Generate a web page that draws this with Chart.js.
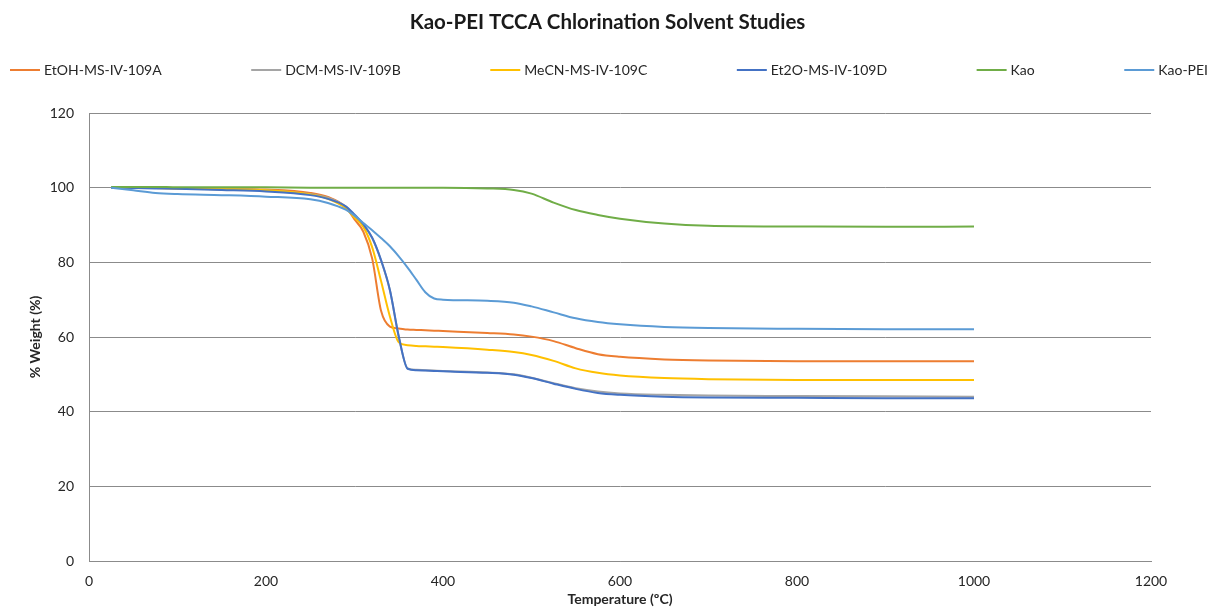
<!DOCTYPE html>
<html>
<head>
<meta charset="utf-8">
<title>Kao-PEI TCCA Chlorination Solvent Studies</title>
<script src="https://cdn.jsdelivr.net/npm/chart.js@4.4.1/dist/chart.umd.min.js"></script>
<style>
    body { margin: 0; background: #fff; }
    #wrap { width: 1211px; height: 616px; }
</style>
</head>
<body>
<div id="wrap"><canvas id="tgaChart"></canvas></div>
<script>
// temperature (ºC) shared by all runs
const temps = [25, 50, 75, 100, 150, 200, 250, 270, 290, 300, 310, 320, 330, 340, 350, 360, 370, 380, 390, 400,
    450, 480, 500, 525, 550, 575, 600, 650, 700, 800, 900, 1000];

// % weight for each sample
const etoh = [100, 99.9, 99.9, 99.8, 99.7, 99.5, 98.6, 97.5, 94.8, 91.5, 88.2, 81, 67, 62.8, 62.3, 62, 61.9, 61.8, 61.7, 61.6,
    61.1, 60.7, 60.1, 58.9, 57, 55.4, 54.7, 54, 53.7, 53.5, 53.5, 53.5];
const dcm = [100, 99.9, 99.9, 99.8, 99.6, 99.3, 98.3, 97.3, 95, 92.5, 90, 86.5, 80.5, 72.5, 60, 51.6, 51.2, 51.1, 51, 50.9,
    50.5, 50, 49.1, 47.6, 46.3, 45.4, 44.9, 44.5, 44.3, 44.2, 44.1, 44];
const mecn = [100, 99.9, 99.9, 99.8, 99.6, 99.3, 98.2, 97, 94.5, 92, 89.5, 84, 75, 65.5, 58.6, 57.8, 57.6, 57.5, 57.4, 57.3,
    56.6, 56, 55.2, 53.6, 51.6, 50.4, 49.7, 49, 48.7, 48.5, 48.5, 48.5];
const et2o = [100, 99.9, 99.8, 99.7, 99.4, 99, 98, 97, 95, 92.8, 90.2, 86.6, 80.6, 72.6, 60.2, 51.5, 51.1, 51, 50.9, 50.8,
    50.4, 49.9, 49, 47.5, 46.1, 45, 44.5, 44, 43.8, 43.7, 43.6, 43.6];
const kao = [100.2, 100.2, 100.2, 100.1, 100.1, 100.1, 100, 100, 100, 100, 100, 100, 100, 100, 100, 100, 100, 100, 100, 100,
    99.8, 99.4, 98.4, 96, 94, 92.7, 91.7, 90.4, 89.8, 89.6, 89.5, 89.6];
const kaoPei = [100, 99.3, 98.6, 98.3, 98, 97.6, 96.9, 95.9, 94.1, 92.5, 90.5, 88.6, 86.5, 84.3, 81.6, 78.6, 75.3, 72, 70.3, 70,
    69.7, 69.2, 68.2, 66.6, 65, 64, 63.4, 62.7, 62.4, 62.2, 62.1, 62.1];

const seriesNames = ['EtOH-MS-IV-109A', 'DCM-MS-IV-109B', 'MeCN-MS-IV-109C', 'Et2O-MS-IV-109D', 'Kao', 'Kao-PEI'];
const seriesValues = [etoh, dcm, mecn, et2o, kao, kaoPei];
const seriesColors = ['#ED7D31', '#A5A5A5', '#FFC000', '#4472C4', '#70AD47', '#5B9BD5'];

const xTicks = [0, 200, 400, 600, 800, 1000, 1200];
const yTicks = [0, 20, 40, 60, 80, 100, 120];

const chartTitle = 'Kao-PEI TCCA Chlorination Solvent Studies';
const fontFamily = 'Lato, "Open Sans", sans-serif';
const gridColor = '#8b8b8b';
const textColor = '#262626';

// excel style header: title centred on the page, then a row of
// short lines with names spread across the full width
const header = {
    id: 'header',
    afterDraw(chart) {
        const ctx = chart.ctx;
        ctx.save();
        ctx.fillStyle = '#1a1a1a';
        ctx.textAlign = 'center';
        ctx.textBaseline = 'middle';
        ctx.font = 'bold 20.5px ' + fontFamily;
        ctx.fillText(chartTitle, chart.width / 2 + 2, 22);

        const sets = chart.data.datasets;
        const lineLen = 30, gap = 4;
        ctx.font = '14px ' + fontFamily;
        const widths = sets.map(d => lineLen + gap + ctx.measureText(d.label).width);
        const total = widths.reduce((a, b) => a + b, 0);
        const left = 10, right = chart.width - 3;
        const space = (right - left - total) / (sets.length - 1);
        const y = 70;
        let x = left;
        ctx.textAlign = 'left';
        sets.forEach((d, i) => {
            ctx.strokeStyle = d.borderColor;
            ctx.lineWidth = 2;
            ctx.beginPath();
            ctx.moveTo(x, y);
            ctx.lineTo(x + lineLen, y);
            ctx.stroke();
            ctx.fillStyle = textColor;
            ctx.fillText(d.label, x + lineLen + gap, y);
            x += widths[i] + space;
        });
        ctx.restore();
    }
};

const ctx = document.getElementById('tgaChart').getContext('2d');

new Chart(ctx, {
    type: 'line',
    data: {
        datasets: seriesNames.map((name, i) => ({
            label: name,
            data: temps.map((t, j) => ({ x: t, y: seriesValues[i][j] })),
            borderColor: seriesColors[i],
            backgroundColor: seriesColors[i],
            borderWidth: 2,
            pointRadius: 0,
            cubicInterpolationMode: 'monotone',
            fill: false,
            order: seriesNames.length - i
        }))
    },
    options: {
        responsive: true,
        maintainAspectRatio: false,
        animation: false,
        layout: {
            padding: { left: 0, right: 60, top: 113, bottom: 0 }
        },
        scales: {
            x: {
                type: 'linear',
                min: 0,
                max: 1200,
                afterBuildTicks: axis => { axis.ticks = xTicks.map(v => ({ value: v })); },
                afterFit: axis => { axis.height = 55; },
                grid: { display: false, drawTicks: false },
                border: { display: true, color: gridColor, width: 1 },
                ticks: {
                    padding: 12,
                    color: textColor,
                    font: { family: fontFamily, size: 14 },
                    callback: value => String(value)
                },
                title: {
                    display: true,
                    text: 'Temperature (ºC)',
                    color: textColor,
                    padding: { top: 2, bottom: 8 },
                    font: { family: fontFamily, size: 14, weight: 'bold' }
                }
            },
            y: {
                min: 0,
                max: 120,
                afterBuildTicks: axis => { axis.ticks = yTicks.map(v => ({ value: v })); },
                afterFit: axis => { axis.width = 89; },
                grid: { color: gridColor, lineWidth: 1, drawTicks: false },
                border: { display: true, color: gridColor, width: 1 },
                ticks: {
                    padding: 15,
                    color: textColor,
                    font: { family: fontFamily, size: 14 },
                    callback: value => String(value)
                },
                title: {
                    display: true,
                    text: '% Weight (%)',
                    color: textColor,
                    padding: { top: 27, bottom: 0 },
                    font: { family: fontFamily, size: 14, weight: 'bold' }
                }
            }
        },
        plugins: {
            legend: { display: false },
            tooltip: { enabled: false },
            title: { display: false }
        }
    },
    plugins: [header]
});
</script>
</body>
</html>
